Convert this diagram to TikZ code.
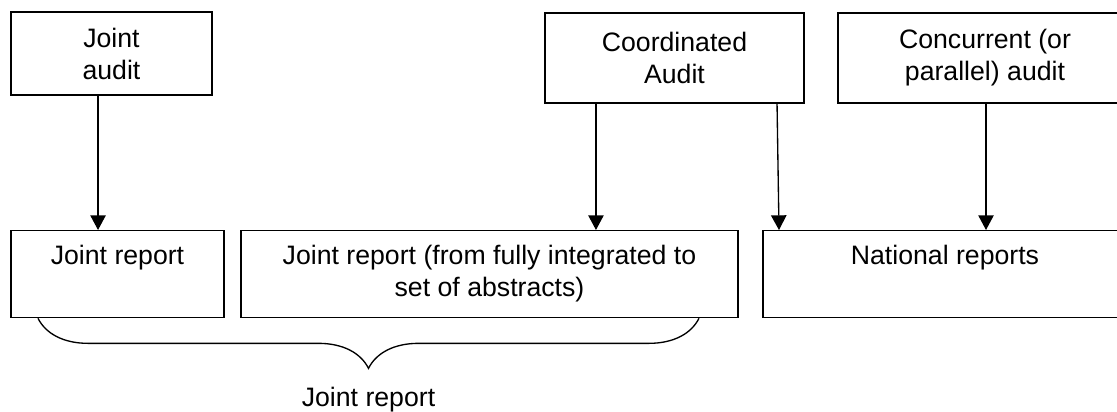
\documentclass[tikz,border=0pt]{standalone}
\usepackage{fontspec}
\setmainfont{Liberation Sans}
\usetikzlibrary{arrows.meta,decorations.pathreplacing}

\tikzset{
	topbox/.style={draw, line width=1pt, inner sep=0pt, align=center},
	repbox/.style={draw, line width=1pt, inner sep=0pt, align=center, text height=25.5pt, text depth=39.75pt},
	arrow/.style={line width=1pt, -{Triangle[length=11pt, width=11.5pt]}},
	bracket/.style={line width=1pt, decorate, decoration={brace, mirror, amplitude=37.5pt}}
}

\begin{document}
\begin{tikzpicture}[x=0.75pt, y=0.75pt, font=\fontsize{20}{24}\selectfont]
					\useasboundingbox (0,0) rectangle (1117,-411);
					
					\node[topbox, minimum width=150.75pt, minimum height=62.25pt] (ja) at (111.5,-53.5) {Joint\\audit};
					\node[topbox, minimum width=194.25pt, minimum height=67.5pt] (ca) at (674.5,-58) {Coordinated\\Audit};
					\node[topbox, minimum width=220.5pt, minimum height=67.5pt] (cc) at (985,-58) {Concurrent (or\\parallel) audit};
					
					\node[repbox, minimum width=159.75pt, anchor=north] (jr) at (117.5,-230) {Joint report};
					\node[repbox, minimum width=372.75pt, anchor=north, text height=49.5pt, text depth=15.75pt] (jf) at (489.5,-230) {Joint report (from fully integrated to\\set of abstracts)};
					\node[repbox, minimum width=273pt, anchor=north] (nr) at (945,-230) {National reports};
					
					\draw[arrow] ([xshift=-10.1pt]ja.south) -- ([xshift=-10.1pt]ja.south |- jr.north);
					\draw[arrow] ([xshift=-58.9pt]ca.south) -- ([xshift=-58.9pt]ca.south |- jf.north);
					\draw[arrow] ([xshift=76.9pt]ca.south) -- ([xshift=-124.5pt]nr.north);
					\draw[arrow] ([xshift=0.75pt]cc.south) -- ([xshift=0.75pt]cc.south |- nr.north);
					
					\draw[bracket] ([xshift=-59.6pt]jr.south) -- ([xshift=157.1pt]jf.south) node[midway, yshift=-60.75pt] (jl) {Joint report};
					\end{tikzpicture}
\end{document}
